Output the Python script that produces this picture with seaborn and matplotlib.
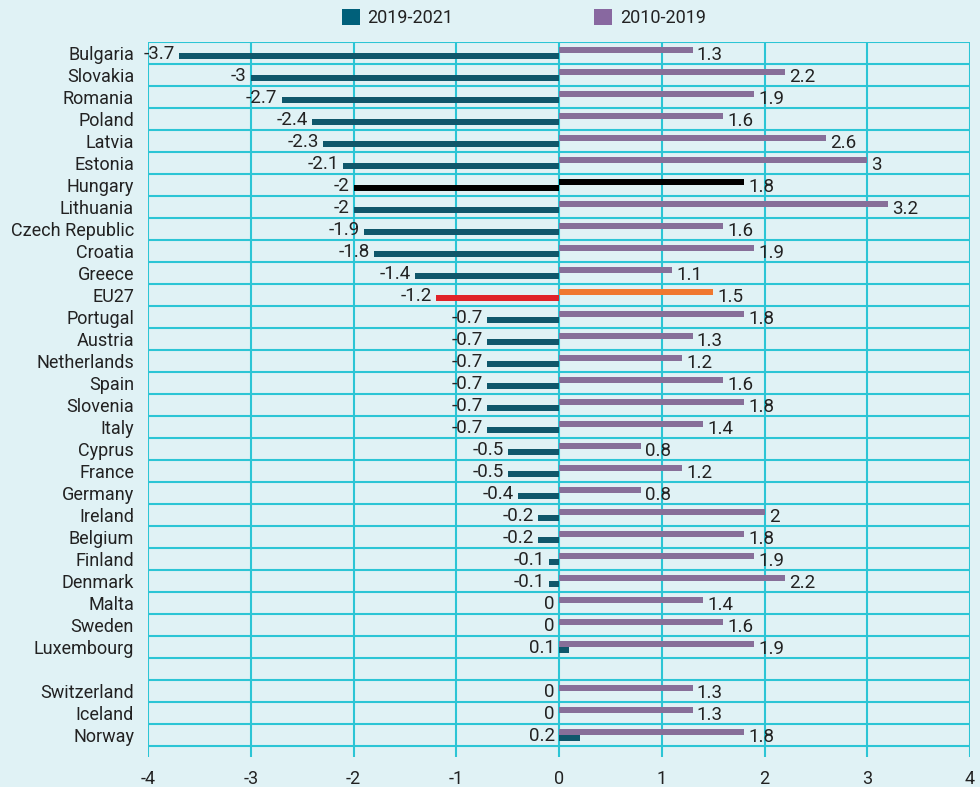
import seaborn as sns
import numpy as np
import pandas as pd
import matplotlib
matplotlib.use("Agg")
import matplotlib.pyplot as plt
from matplotlib.patches import Patch

countries = ["Bulgaria", "Slovakia", "Romania", "Poland", "Latvia", "Estonia",
             "Hungary", "Lithuania", "Czech Republic", "Croatia", "Greece", "EU27",
             "Portugal", "Austria", "Netherlands", "Spain", "Slovenia", "Italy",
             "Cyprus", "France", "Germany", "Ireland", "Belgium", "Finland",
             "Denmark", "Malta", "Sweden", "Luxembourg",
             "Switzerland", "Iceland", "Norway"]
v_2019_2021 = [-3.7, -3, -2.7, -2.4, -2.3, -2.1, -2, -2, -1.9, -1.8, -1.4, -1.2,
               -0.7, -0.7, -0.7, -0.7, -0.7, -0.7, -0.5, -0.5, -0.4, -0.2, -0.2,
               -0.1, -0.1, 0, 0, 0.1, 0, 0, 0.2]
v_2010_2019 = [1.3, 2.2, 1.9, 1.6, 2.6, 3, 1.8, 3.2, 1.6, 1.9, 1.1, 1.5,
               1.8, 1.3, 1.2, 1.6, 1.8, 1.4, 0.8, 1.2, 0.8, 2, 1.8,
               1.9, 2.2, 1.4, 1.6, 1.9, 1.3, 1.3, 1.8]
series = ["2010-2019", "2019-2021"]
# blank row between Luxembourg and Switzerland
row_order = countries[:28] + [""] + countries[28:]

bg = "#e0f2f5"
grid_c = "#2cc5d5"
teal = "#00607a"
purple = "#8868a0"
txt = "#222222"
fs = 13

plt.rcParams["font.family"] = ["Roboto", "DejaVu Sans"]
plt.rcParams["axes.unicode_minus"] = False

df = pd.DataFrame({
    "country": countries * 2,
    "value": v_2010_2019 + v_2019_2021,
    "series": ["2010-2019"] * len(countries) + ["2019-2021"] * len(countries),
})

fig = plt.figure(figsize=(9.8, 7.87), dpi=100, facecolor=bg)
ax = fig.add_axes([148 / 980, 1 - 757 / 787, 822 / 980, 715 / 787])
ax.set_facecolor(bg)

sns.barplot(data=df, x="value", y="country", hue="series", order=row_order,
            hue_order=series, palette=[purple, teal], orient="h",
            width=0.54, linewidth=0, legend=False, ax=ax)

# highlight Hungary and EU27
hu = row_order.index("Hungary")
eu = row_order.index("EU27")
for p in ax.patches:
    yc = p.get_y() + p.get_height() / 2
    idx = int(round(yc))
    if idx == hu:
        p.set_facecolor("black")
    elif idx == eu:
        p.set_facecolor("#f07830" if yc < idx else "#e02329")

# value labels
for i, c in enumerate(row_order):
    if c == "":
        continue
    k = countries.index(c)
    a = v_2019_2021[k]
    b = v_2010_2019[k]
    ax.annotate(f"{a:g}", (min(a, 0), i + 0.03), xytext=(-3, 0), textcoords="offset points",
                ha="right", va="center", fontsize=fs + 0.5, color=txt)
    ax.annotate(f"{b:g}", (b, i + 0.08), xytext=(3, 0), textcoords="offset points",
                ha="left", va="center", fontsize=fs + 0.5, color=txt)

ax.set_xlim(-4, 4)
ax.set_ylim(len(row_order), -0.5)
ax.set_xticks(np.arange(-4, 5, 1))
ax.set_xticklabels([str(t) for t in range(-4, 5)])
ax.set_yticks(np.arange(-0.5, len(row_order), 1), minor=True)
ax.grid(False)
ax.grid(True, axis="x", which="major", color=grid_c, linewidth=1.5)
ax.grid(True, axis="y", which="minor", color=grid_c, linewidth=1.5)
ax.set_axisbelow(True)
ax.tick_params(axis="both", which="both", length=0, colors=txt, labelsize=fs)
ax.tick_params(axis="y", pad=10)
ax.tick_params(axis="x", pad=9)
for s in ax.spines.values():
    s.set_visible(False)
ax.set_xlabel("")
ax.set_ylabel("")

handles = [Patch(facecolor=teal, label="2019-2021"),
           Patch(facecolor=purple, label="2010-2019")]
fig.legend(handles=handles, loc="center left", bbox_to_anchor=(326 / 980, 1 - 18 / 787),
           ncol=2, frameon=False, fontsize=fs, handlelength=1.0, handleheight=1.0,
           handletextpad=0.4, columnspacing=7.8, labelcolor=txt)

fig.savefig("out.png", dpi=100, facecolor=bg)
